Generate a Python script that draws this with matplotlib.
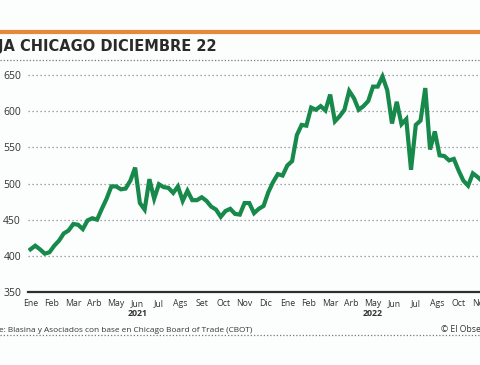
#soja_chicago.py
#Precio de la soja en Chicago, contrato diciembre 22
import numpy as np
import matplotlib.pyplot as plt
from matplotlib import transforms

plt.rcParams['font.family'] = ['Open Sans', 'DejaVu Sans']

#Precio semanal (US$/t), desde enero 2021
precio = [409, 414, 409, 403, 405, 414, 421, 431, 435, 444, 443, 437, 449, 452,
          450, 465, 479, 496, 496, 492, 493, 504, 522, 473, 464, 506, 479, 499,
          495, 494, 487, 496, 476, 490, 477, 477, 481, 476, 468, 464, 454, 462,
          465, 458, 457, 473, 473, 459, 465, 469, 488, 502, 513, 511, 525, 531,
          567, 581, 580, 605, 602, 607, 601, 623, 586, 593, 602, 628, 618, 602,
          607, 614, 634, 634, 648, 629, 583, 613, 582, 589, 519, 581, 587, 632,
          547, 572, 539, 538, 532, 534, 518, 504, 497, 514, 509, 503]
meses = ['Ene', 'Feb', 'Mar', 'Arb', 'May', 'Jun', 'Jul', 'Ags', 'Set', 'Oct', 'Nov',
         'Dic', 'Ene', 'Feb', 'Mar', 'Arb', 'May', 'Jun', 'Jul', 'Ags', 'Oct', 'Nov']
anios = ['2021', '2022']
anios_pos = [5, 16]
y_ticks = [350, 400, 450, 500, 550, 600, 650]

W, H = 480, 365
fig = plt.figure(figsize=(W / 100, H / 100), dpi=100)
fig.patch.set_facecolor('#fcfdfd')

#ejes en pixeles: izquierda 28, abajo 292, arriba 66
ax = fig.add_axes([28 / W, (H - 292) / H, 1 - 28 / W, (292 - 66) / H])
ax.set_facecolor('none')

x = np.arange(len(precio)) * 12 / 54   #semanas -> meses
ax.plot(x, precio, color='#17894a', lw=3, solid_joinstyle='miter', zorder=3)

ax.set_xlim(-0.116, 20.81)
ax.set_ylim(350, 662.5)

for v in y_ticks[1:]:
    ax.axhline(v, color='#8a8a8a', lw=0.9, ls=(0, (1, 2.2)), zorder=1)

for s in ['top', 'right', 'left']:
    ax.spines[s].set_visible(False)
ax.spines['bottom'].set_color('#2e2e2e')
ax.spines['bottom'].set_linewidth(1.6)

ax.set_yticks(y_ticks)
ax.set_yticklabels([str(v) for v in y_ticks], fontsize=7.5, color='#333333')
ax.set_xticks(range(len(meses)))
ax.set_xticklabels(meses, fontsize=6.3, color='#333333')
ax.tick_params(axis='y', length=0, pad=5)
ax.tick_params(axis='x', length=0, pad=5)

trans = transforms.blended_transform_factory(ax.transData, fig.transFigure)
for a, p in zip(anios, anios_pos):
    ax.text(p, (H - 313) / H, a, transform=trans, ha='center', va='center',
            fontsize=6.3, fontweight='bold', color='#333333')

#barra naranja y titulo
fig.add_artist(plt.Line2D([0, 1], [(H - 31.5) / H] * 2, color='#e38a3a', lw=3))
fig.text(217 / W, (H - 47) / H, 'SOJA CHICAGO DICIEMBRE 22', ha='right', va='center',
         fontsize=10.5, fontweight='bold', color='#2a2a2a', family='DejaVu Sans')
fig.add_artist(plt.Line2D([0, 1], [(H - 59.5) / H] * 2, color='#777777', lw=0.9,
                          ls=(0, (1, 1.6))))

#fuente
fig.text(252 / W, (H - 330) / H, 'Fuente: Blasina y Asociados con base en Chicago Board of Trade (CBOT)',
         ha='right', va='center', fontsize=5.95, color='#333333')
fig.text(441 / W, (H - 330) / H, '© El Observador', ha='left', va='center',
         fontsize=6.2, color='#333333')
fig.add_artist(plt.Line2D([0, 1], [(H - 335) / H] * 2, color='#777777', lw=0.9,
                          ls=(0, (1, 1.6))))

fig.savefig('out.png', dpi=100, facecolor=fig.get_facecolor())
